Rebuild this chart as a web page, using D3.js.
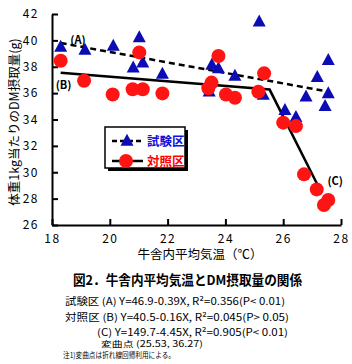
<!DOCTYPE html>
<html>
<head>
<meta charset="utf-8">
<script src="https://cdn.jsdelivr.net/npm/d3@7"></script>
<style>
  body { margin: 0; background: #fff; }
  text { font-family: "Noto Sans CJK JP", "DejaVu Sans", sans-serif; }
</style>
</head>
<body>
<div id="chart"></div>
<script>
// 試験区 (triangles)
const trialTemp = [18.3, 19.14, 20.12, 21.02, 20.81, 21.14, 21.82, 23.53, 23.76, 23.44, 24.33, 25.17, 25.31, 26.06, 26.44, 26.79, 27.18, 27.56, 27.56, 27.45];
const trialDM   = [39.5, 39.27, 39.57, 40.23, 37.93, 38.3,  37.45, 38.13, 37.88, 36.1,  37.3,  41.41, 35.86, 34.7,  34.17, 35.73, 37.2,  38.5,  35.98, 35.0];
// 対照区 (circles)
const ctrlTemp = [18.3, 19.11, 20.1, 20.79, 21.14, 21.02, 21.82, 23.41, 23.52, 23.76, 24.02, 24.33, 25.14, 25.34, 26.0, 26.44, 26.72, 27.16, 27.56, 27.41];
const ctrlDM   = [38.46, 36.94, 35.9, 36.29, 36.29, 39.09, 35.98, 36.37, 36.8, 38.81, 35.9, 35.65, 36.1, 37.5, 33.76, 33.5, 29.84, 28.7, 27.9, 27.52];
// regression lines
const lineA = [[18.3, 39.8], [27.6, 36.1]];
const lineBC = [[18.3, 37.55], [25.53, 36.27], [27.2, 29.0]];

const xTicks = [18, 20, 22, 24, 26, 28];
const yTicks = [26, 28, 30, 32, 34, 36, 38, 40, 42];

const W = 352, H = 364;
const BLUE = "#0c0cb4", RED = "#ff1414";

const svg = d3.select("#chart").append("svg")
  .attr("width", W).attr("height", H);

const x = d3.scaleLinear().domain([18, 28]).range([52, 341]);
const y = d3.scaleLinear().domain([26, 42]).range([225, 14]);

// axes
const xAxis = svg.append("g")
  .attr("transform", `translate(0, ${y(26)})`)
  .call(d3.axisBottom(x).tickValues(xTicks).tickSizeInner(-6).tickSizeOuter(0).tickPadding(9));
const yAxis = svg.append("g")
  .attr("transform", `translate(${x(18)}, 0)`)
  .call(d3.axisLeft(y).tickValues(yTicks).tickSizeInner(-6).tickSizeOuter(0).tickPadding(13));

[xAxis, yAxis].forEach(a => {
  a.select(".domain").attr("stroke", "#000").attr("stroke-width", 2);
  a.selectAll(".tick line").attr("stroke", "#000").attr("stroke-width", 2);
  a.selectAll(".tick text")
    .attr("fill", "#000")
    .attr("font-size", "12px")
    .style("letter-spacing", "1.5px");
});

// regression lines
const line = d3.line().x(d => x(d[0])).y(d => y(d[1]));
svg.append("path")
  .attr("d", line(lineA))
  .attr("fill", "none").attr("stroke", "#000")
  .attr("stroke-width", 2.5).attr("stroke-dasharray", "6,4");
svg.append("path")
  .attr("d", line(lineBC))
  .attr("fill", "none").attr("stroke", "#000")
  .attr("stroke-width", 2.5);

// markers
function triPath(cx, cy) {
  const w = 13, h = 12;
  return `M${cx},${cy - h * 0.6}L${cx + w / 2},${cy + h * 0.4}L${cx - w / 2},${cy + h * 0.4}Z`;
}
svg.append("g").selectAll("path")
  .data(d3.range(trialTemp.length))
  .join("path")
  .attr("d", i => triPath(x(trialTemp[i]), y(trialDM[i])))
  .attr("fill", BLUE);

svg.append("g").selectAll("circle")
  .data(d3.range(ctrlTemp.length))
  .join("circle")
  .attr("cx", i => x(ctrlTemp[i]))
  .attr("cy", i => y(ctrlDM[i]))
  .attr("r", 7)
  .attr("fill", RED);

// line labels
const lab = [["(A)", 18.9, 40.0], ["(B)", 18.4, 36.6], ["(C)", 27.8, 29.3]];
svg.append("g").selectAll("text")
  .data(lab)
  .join("text")
  .attr("x", d => x(d[1]))
  .attr("y", d => y(d[2]))
  .attr("dy", "0.35em")
  .attr("text-anchor", "middle")
  .attr("font-size", "11px")
  .attr("font-weight", "bold")
  .text(d => d[0]);

// legend
const lg = svg.append("g").attr("transform", "translate(105, 127)");
lg.append("rect").attr("x", 3).attr("y", 3).attr("width", 80).attr("height", 41).attr("fill", "#000");
lg.append("rect").attr("x", 0).attr("y", 0).attr("width", 80).attr("height", 41)
  .attr("fill", "#fff").attr("stroke", "#000").attr("stroke-width", 1.5);
lg.append("line").attr("x1", 7).attr("x2", 38).attr("y1", 14).attr("y2", 14)
  .attr("stroke", "#000").attr("stroke-width", 2.5).attr("stroke-dasharray", "5,3");
lg.append("path").attr("d", triPath(22, 14)).attr("fill", BLUE);
lg.append("text").attr("x", 42).attr("y", 14).attr("dy", "0.36em")
  .attr("font-size", "12.5px").attr("font-weight", "bold").attr("fill", "#1010e0").text("試験区");
lg.append("line").attr("x1", 7).attr("x2", 38).attr("y1", 34).attr("y2", 34)
  .attr("stroke", "#000").attr("stroke-width", 2.5);
lg.append("circle").attr("cx", 21).attr("cy", 34).attr("r", 7).attr("fill", RED);
lg.append("text").attr("x", 42).attr("y", 34).attr("dy", "0.36em")
  .attr("font-size", "12.5px").attr("font-weight", "bold").attr("fill", "#ff0000").text("対照区");

// axis titles
svg.append("text")
  .attr("transform", "translate(15, 122) rotate(-90)")
  .attr("text-anchor", "middle")
  .attr("dy", "0.35em")
  .attr("font-size", "12.5px")
  .text("体重1kg当たりのDM摂取量(g)");
svg.append("text")
  .attr("x", 200).attr("y", 255).attr("dy", "0.35em")
  .attr("text-anchor", "middle")
  .attr("font-size", "12.5px")
  .text("牛舎内平均気温（℃）");

// caption
svg.append("text")
  .attr("x", 73).attr("y", 280).attr("dy", "0.35em")
  .attr("font-size", "13.5px").attr("font-weight", "bold")
  .attr("textLength", 229).attr("lengthAdjust", "spacingAndGlyphs")
  .text("図2．牛舎内平均気温とDM摂取量の関係");

const notes = [
  ["試験区 (A) Y=46.9-0.39X, R²=0.356(P< 0.01)", 65, 301, 220, 10],
  ["対照区 (B) Y=40.5-0.16X, R²=0.045(P> 0.05)", 65, 317, 224, 10],
  ["(C) Y=149.7-4.45X, R²=0.905(P< 0.01)", 97, 332, 191, 10],
  ["変曲点 (25.53, 36.27)", 101, 344.5, 102, 8.5],
  ["注1)変曲点は折れ線回帰利用による。", 63, 355.5, 112, 7.5]
];
svg.append("g").selectAll("text")
  .data(notes)
  .join("text")
  .attr("x", d => d[1])
  .attr("y", d => d[2])
  .attr("dy", "0.35em")
  .attr("font-size", d => d[4] + "px")
  .attr("textLength", d => d[3])
  .attr("lengthAdjust", "spacingAndGlyphs")
  .text(d => d[0]);
</script>
</body>
</html>
